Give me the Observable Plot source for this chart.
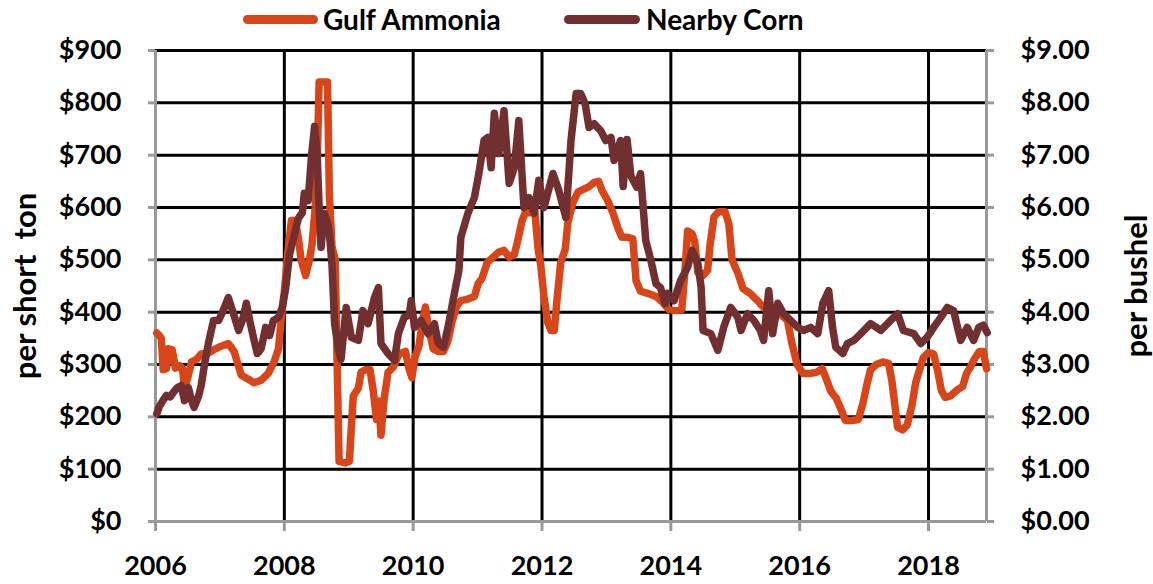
<!DOCTYPE html>
<html>
<head>
<meta charset="utf-8">
<script src="https://cdn.jsdelivr.net/npm/d3@7"></script>
<script src="https://cdn.jsdelivr.net/npm/@observablehq/plot@0.6"></script>
<style>
  html, body { margin: 0; padding: 0; background: #fff; }
  #wrap { position: relative; width: 1153px; height: 584px; font-family: Lato, "Open Sans", sans-serif; font-weight: 700; color: #000; }
  #wrap svg { position: absolute; left: 0; top: 0; }
  .lg { position: absolute; top: 2px; font-size: 28px; line-height: 34px; white-space: pre; }
  .sw { position: absolute; top: 15px; height: 9px; border-radius: 5px; }
  .ttl { position: absolute; font-size: 31px; white-space: pre; transform: translate(-50%, -50%) rotate(-90deg); line-height: 36px; }
</style>
</head>
<body>
<div id="wrap"></div>
<script>
// Gulf Ammonia ($ per short ton)
const ammoniaYears = [2006.02,2006.06,2006.09,2006.12,2006.17,2006.20,2006.26,2006.31,2006.37,2006.42,2006.45,2006.50,2006.56,2006.64,2006.71,2006.82,2006.93,2007.02,2007.13,2007.22,2007.33,2007.44,2007.53,2007.64,2007.75,2007.84,2007.91,2007.95,2008.00,2008.06,2008.11,2008.17,2008.22,2008.26,2008.33,2008.39,2008.43,2008.48,2008.51,2008.54,2008.62,2008.67,2008.70,2008.74,2008.79,2008.82,2008.85,2008.95,2009.01,2009.04,2009.07,2009.15,2009.19,2009.26,2009.33,2009.38,2009.43,2009.47,2009.50,2009.55,2009.61,2009.69,2009.78,2009.88,2009.94,2009.98,2010.03,2010.09,2010.14,2010.19,2010.23,2010.31,2010.39,2010.47,2010.54,2010.60,2010.67,2010.74,2010.85,2010.95,2011.01,2011.07,2011.15,2011.24,2011.33,2011.41,2011.49,2011.57,2011.63,2011.69,2011.74,2011.83,2011.89,2011.94,2011.98,2012.03,2012.09,2012.14,2012.19,2012.23,2012.29,2012.36,2012.40,2012.48,2012.56,2012.65,2012.73,2012.81,2012.88,2012.93,2013.02,2013.10,2013.18,2013.24,2013.33,2013.41,2013.46,2013.53,2013.64,2013.77,2013.88,2013.97,2014.08,2014.17,2014.22,2014.26,2014.33,2014.37,2014.42,2014.50,2014.57,2014.61,2014.67,2014.74,2014.84,2014.90,2014.95,2015.04,2015.12,2015.23,2015.36,2015.47,2015.58,2015.69,2015.81,2015.88,2015.96,2016.05,2016.16,2016.26,2016.35,2016.42,2016.48,2016.57,2016.64,2016.71,2016.81,2016.91,2016.98,2017.04,2017.10,2017.19,2017.29,2017.38,2017.43,2017.47,2017.52,2017.60,2017.67,2017.74,2017.80,2017.86,2017.92,2018.00,2018.08,2018.14,2018.20,2018.26,2018.34,2018.43,2018.53,2018.59,2018.65,2018.71,2018.79,2018.85,2018.90];
const ammoniaValues = [360,355,350,290,292,330,328,293,298,292,255,275,305,310,320,322,330,335,340,325,280,272,265,270,283,305,330,385,440,520,575,575,540,500,470,500,530,600,680,840,840,840,620,525,500,300,115,112,115,180,240,255,285,290,290,250,195,230,165,235,285,295,320,325,290,275,315,335,380,410,375,330,325,325,345,380,410,422,425,430,455,465,495,505,515,518,505,510,540,575,590,590,590,520,490,430,380,365,365,420,495,520,570,610,630,635,640,648,650,633,613,590,560,543,543,540,460,440,436,430,418,405,403,405,480,555,550,535,475,470,480,530,582,592,592,569,500,475,445,436,420,405,400,397,384,340,300,283,283,285,292,270,250,235,215,193,193,195,225,260,290,300,305,302,270,230,180,175,185,220,265,290,313,323,320,289,250,237,240,250,258,283,295,310,325,325,292];

// Nearby Corn ($ per bushel)
const cornYears = [2006.02,2006.06,2006.11,2006.17,2006.23,2006.28,2006.34,2006.40,2006.45,2006.51,2006.56,2006.60,2006.67,2006.71,2006.76,2006.82,2006.90,2006.98,2007.05,2007.13,2007.21,2007.29,2007.35,2007.41,2007.47,2007.52,2007.58,2007.64,2007.71,2007.77,2007.83,2007.91,2007.97,2008.02,2008.08,2008.16,2008.22,2008.28,2008.31,2008.37,2008.42,2008.47,2008.51,2008.54,2008.57,2008.62,2008.67,2008.70,2008.74,2008.78,2008.84,2008.88,2008.96,2009.04,2009.15,2009.22,2009.30,2009.40,2009.46,2009.50,2009.61,2009.71,2009.77,2009.86,2009.94,2009.97,2010.02,2010.12,2010.23,2010.33,2010.39,2010.47,2010.54,2010.64,2010.71,2010.74,2010.85,2010.95,2011.02,2011.10,2011.16,2011.21,2011.26,2011.33,2011.41,2011.49,2011.57,2011.64,2011.72,2011.80,2011.88,2011.95,2012.03,2012.17,2012.26,2012.37,2012.45,2012.53,2012.60,2012.67,2012.73,2012.81,2012.91,2012.99,2013.07,2013.12,2013.22,2013.26,2013.32,2013.38,2013.47,2013.53,2013.61,2013.69,2013.77,2013.84,2013.91,2013.95,2014.05,2014.15,2014.26,2014.33,2014.42,2014.47,2014.50,2014.62,2014.73,2014.82,2014.93,2015.04,2015.09,2015.19,2015.29,2015.39,2015.44,2015.52,2015.58,2015.66,2015.75,2015.86,2015.97,2016.06,2016.17,2016.28,2016.36,2016.45,2016.51,2016.56,2016.67,2016.74,2016.84,2016.95,2017.10,2017.26,2017.41,2017.52,2017.61,2017.77,2017.88,2017.98,2018.08,2018.19,2018.29,2018.39,2018.45,2018.50,2018.60,2018.70,2018.78,2018.85,2018.91];
const cornValues = [2.06,2.20,2.30,2.41,2.38,2.47,2.56,2.60,2.31,2.56,2.31,2.18,2.40,2.60,3.00,3.40,3.84,3.84,4.03,4.28,3.97,3.65,3.85,4.17,3.80,3.52,3.21,3.30,3.71,3.55,3.84,3.90,4.10,4.45,5.10,5.50,5.80,5.90,6.27,6.13,6.96,7.55,7.00,6.00,5.24,5.89,5.70,5.50,4.90,3.78,3.30,3.10,4.09,3.52,3.46,4.03,3.78,4.28,4.47,3.40,3.21,3.08,3.59,3.90,3.95,4.22,3.71,3.84,3.59,3.78,3.40,3.33,3.71,4.36,4.80,5.43,5.89,6.19,6.65,7.28,7.34,6.76,7.80,7.03,7.85,6.46,6.76,7.66,6.00,6.19,5.89,6.52,6.00,6.65,6.33,5.81,7.28,8.18,8.18,7.98,7.53,7.60,7.47,7.28,7.34,6.90,7.28,6.40,7.30,6.60,6.39,6.65,5.37,4.99,4.54,4.47,4.16,4.36,4.22,4.60,4.86,5.18,4.93,4.47,3.65,3.59,3.27,3.71,4.09,3.90,3.65,3.97,3.84,3.65,3.46,4.41,3.59,4.17,3.97,3.84,3.71,3.65,3.71,3.59,4.17,4.41,3.71,3.33,3.21,3.40,3.46,3.59,3.78,3.65,3.84,3.97,3.65,3.59,3.40,3.52,3.71,3.90,4.09,4.03,3.71,3.46,3.71,3.46,3.71,3.75,3.61];

const leftTicks = [0,100,200,300,400,500,600,700,800,900];
const xTicks = [2006,2008,2010,2012,2014,2016,2018];
const xDomain = [2006, 2018.9];
const seriesNames = ["Gulf Ammonia", "Nearby Corn"];
const seriesColors = ["#D84519", "#722F2F"];
const yTitles = ["per short  ton", "per bushel"];

const ammonia = ammoniaYears.map((t, i) => ({t, v: ammoniaValues[i]}));
const corn = cornYears.map((t, i) => ({t, v: cornValues[i] * 100}));

const axisGray = "#999";
const chart = Plot.plot({
  width: 1153,
  height: 584,
  marginLeft: 155,
  marginRight: 167,
  marginTop: 50,
  marginBottom: 63,
  x: {domain: xDomain},
  y: {domain: [0, 900]},
  style: {fontFamily: "Lato, 'Open Sans', sans-serif", fontWeight: 700, fontSize: "27px", color: "#000", background: "transparent", overflow: "visible"},
  marks: [
    Plot.gridY(leftTicks, {stroke: "#000", strokeOpacity: 1, strokeWidth: 3}),
    Plot.gridX(xTicks.slice(1), {stroke: "#000", strokeOpacity: 1, strokeWidth: 3}),
    Plot.ruleX(xDomain, {stroke: axisGray, strokeWidth: 3}),
    Plot.ruleY([0], {stroke: axisGray, strokeWidth: 3}),
    Plot.axisY(leftTicks, {anchor: "left", tickFormat: d => "$" + d, tickSize: 7, tickPadding: 27, stroke: axisGray, strokeWidth: 3, label: null}),
    Plot.axisY(leftTicks, {anchor: "right", tickFormat: d => "$" + (d / 100).toFixed(2), tickSize: 7, tickPadding: 27, stroke: axisGray, strokeWidth: 3, label: null}),
    Plot.axisX(xTicks, {anchor: "bottom", tickFormat: d => String(d), tickSize: 10, tickPadding: 24, stroke: axisGray, strokeWidth: 3, label: null}),
    Plot.lineY(ammonia, {x: "t", y: "v", stroke: seriesColors[0], strokeWidth: 7.5, strokeLinejoin: "round", strokeLinecap: "round"}),
    Plot.lineY(corn, {x: "t", y: "v", stroke: seriesColors[1], strokeWidth: 7.5, strokeLinejoin: "round", strokeLinecap: "round"})
  ]
});

const wrap = document.getElementById("wrap");
wrap.appendChild(chart);

// legend
const legendPos = [{sw: 243, swW: 75, tx: 323}, {sw: 564, swW: 76, tx: 646}];
seriesNames.forEach((name, i) => {
  const s = document.createElement("div");
  s.className = "sw";
  s.style.left = legendPos[i].sw + "px";
  s.style.width = legendPos[i].swW + "px";
  s.style.background = seriesColors[i];
  wrap.appendChild(s);
  const t = document.createElement("div");
  t.className = "lg";
  t.style.left = legendPos[i].tx + "px";
  t.textContent = name;
  wrap.appendChild(t);
});

// axis titles
const titlePos = [{x: 24, y: 286}, {x: 1135, y: 286}];
yTitles.forEach((txt, i) => {
  const d = document.createElement("div");
  d.className = "ttl";
  d.style.left = titlePos[i].x + "px";
  d.style.top = titlePos[i].y + "px";
  d.textContent = txt;
  wrap.appendChild(d);
});
</script>
</body>
</html>
